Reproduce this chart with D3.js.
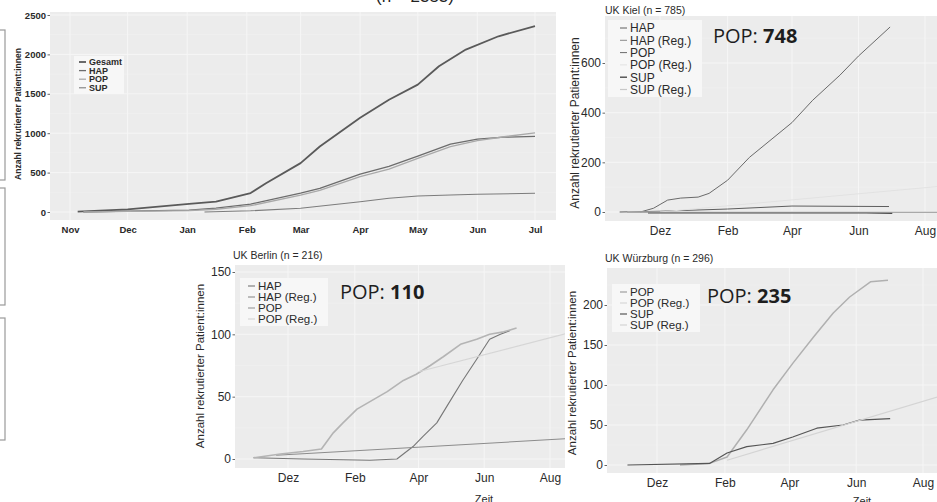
<!DOCTYPE html>
<html>
<head>
<meta charset="utf-8">
<script src="https://cdnjs.cloudflare.com/ajax/libs/d3/7.8.5/d3.min.js"></script>
<style>
	body { margin: 0; background: #fff; }
	svg { display: block; }
</style>
</head>
<body>
<svg id="chart" width="937" height="502"></svg>
<script>
/**********************************************************/
/*	Data					  */
/**********************************************************/

// Overview panel (all sites)
var allYTicks = [0, 500, 1000, 1500, 2000, 2500];
var allXTicks = ["2022-11-01", "2022-12-01", "2023-01-01", "2023-02-01", "2023-03-01",
	"2023-04-01", "2023-05-01", "2023-06-01", "2023-07-01"];
var allGesamt = [["2022-11-05", 4], ["2022-12-01", 34], ["2023-01-02", 102], ["2023-01-16", 131],
	["2023-02-03", 240], ["2023-02-11", 365], ["2023-03-01", 620], ["2023-03-11", 831],
	["2023-04-01", 1196], ["2023-04-16", 1425], ["2023-05-01", 1616], ["2023-05-12", 1849],
	["2023-05-26", 2061], ["2023-06-12", 2230], ["2023-07-01", 2360]];
var allHap = [["2022-11-08", 0], ["2022-12-01", 12], ["2023-01-02", 25], ["2023-01-16", 50],
	["2023-02-03", 100], ["2023-03-01", 240], ["2023-03-11", 300], ["2023-04-01", 480],
	["2023-04-16", 580], ["2023-05-01", 710], ["2023-05-18", 860], ["2023-06-01", 925],
	["2023-06-15", 950], ["2023-07-01", 960]];
var allPop = [["2022-11-08", 0], ["2022-12-01", 8], ["2023-01-02", 18], ["2023-01-16", 35],
	["2023-02-03", 80], ["2023-03-01", 215], ["2023-03-11", 275], ["2023-04-01", 450],
	["2023-04-16", 545], ["2023-05-01", 680], ["2023-05-18", 830], ["2023-06-01", 905],
	["2023-06-15", 955], ["2023-07-01", 1005]];
var allSup = [["2023-01-10", 0], ["2023-02-03", 15], ["2023-03-01", 47], ["2023-04-01", 131],
	["2023-04-16", 175], ["2023-05-01", 204], ["2023-05-18", 216], ["2023-06-01", 225],
	["2023-07-01", 238]];

// Site panels share the same month ticks
var siteXTicks = ["2022-12-01", "2023-02-01", "2023-04-01", "2023-06-01", "2023-08-01"];

// UK Kiel
var kielYTicks = [0, 200, 400, 600];
var kielHap = [["2022-10-25", 0], ["2022-12-01", 3], ["2023-02-01", 12], ["2023-04-01", 24], ["2023-06-29", 22]];
var kielHapReg = [["2022-11-01", -2], ["2023-08-31", -2]];
var kielPop = [["2022-11-13", 0], ["2022-11-25", 15], ["2022-12-08", 48], ["2022-12-20", 56],
	["2023-01-05", 60], ["2023-01-15", 75], ["2023-02-01", 128], ["2023-02-21", 220],
	["2023-04-01", 360], ["2023-04-20", 450], ["2023-05-15", 551], ["2023-06-01", 628],
	["2023-06-30", 745]];
var kielPopReg = [["2022-12-01", 0], ["2023-08-31", 110]];
var kielSup = [["2022-11-20", -3], ["2023-06-08", -3], ["2023-07-02", -5]];
var kielSupReg = [["2022-11-01", 0], ["2023-08-31", 0]];

// UK Berlin
var berlinYTicks = [0, 50, 100, 150];
var berlinHap = [["2022-10-30", 1], ["2022-12-15", 0], ["2023-02-15", -1], ["2023-03-12", 0],
	["2023-03-18", 4], ["2023-03-27", 10], ["2023-04-05", 18], ["2023-04-18", 29],
	["2023-04-30", 46], ["2023-05-12", 63], ["2023-05-25", 80], ["2023-06-06", 96],
	["2023-06-16", 100], ["2023-06-25", 103]];
var berlinHapReg = [["2022-11-20", 3], ["2023-08-31", 17]];
var berlinPop = [["2022-10-30", 1], ["2022-11-24", 4], ["2022-12-15", 6], ["2023-01-01", 8],
	["2023-01-12", 21], ["2023-01-21", 29], ["2023-02-03", 40], ["2023-02-15", 46],
	["2023-03-03", 54], ["2023-03-18", 63], ["2023-03-30", 68], ["2023-04-12", 75],
	["2023-04-24", 82], ["2023-05-10", 92], ["2023-05-25", 96], ["2023-06-06", 100],
	["2023-06-19", 102], ["2023-07-01", 105]];
var berlinPopReg = [["2023-04-01", 70], ["2023-08-31", 104]];

// UK Wuerzburg
var wueYTicks = [0, 50, 100, 150, 200];
var wuePop = [["2022-12-22", 0], ["2023-01-18", 2], ["2023-02-03", 10], ["2023-02-21", 44],
	["2023-03-17", 94], ["2023-04-04", 127], ["2023-04-23", 160], ["2023-05-11", 190],
	["2023-05-26", 210], ["2023-06-14", 229], ["2023-06-30", 231]];
var wueSup = [["2022-11-04", 0], ["2023-01-18", 2], ["2023-02-03", 15], ["2023-02-21", 23],
	["2023-03-17", 27], ["2023-04-04", 35], ["2023-04-26", 46], ["2023-05-20", 50],
	["2023-06-04", 56], ["2023-07-02", 58]];
var wueSupReg = [["2023-02-03", 6], ["2023-08-31", 92]];

// Annotations
var popTotals = { kiel: "748", berlin: "110", wue: "235" };

/**********************************************************/
/*	Utilities											  */
/**********************************************************/

var parseDay = d3.timeParse("%Y-%m-%d");
var enFormat = d3.timeFormat("%b");
var deFormat = d3.timeFormatLocale({
	dateTime: "%A, %e. %B %Y, %X", date: "%d.%m.%Y", time: "%H:%M:%S", periods: ["AM", "PM"],
	days: ["Sonntag", "Montag", "Dienstag", "Mittwoch", "Donnerstag", "Freitag", "Samstag"],
	shortDays: ["So", "Mo", "Di", "Mi", "Do", "Fr", "Sa"],
	months: ["Januar", "Februar", "März", "April", "Mai", "Juni", "Juli", "August", "September", "Oktober", "November", "Dezember"],
	shortMonths: ["Jan", "Feb", "Mär", "Apr", "Mai", "Jun", "Jul", "Aug", "Sep", "Okt", "Nov", "Dez"]
}).format("%b");

var YLABEL = "Anzahl rekrutierter Patient:innen";
var svg = d3.select("#chart");
var clipCount = 0;

/**
 * One ggplot-like panel
 */
function drawPanel(o) {
	var g = svg.append("g");
	var x = d3.scaleTime().domain(o.xDomain.map(parseDay)).range(o.xRange);
	var y = d3.scaleLinear().domain(o.yDomain).range(o.yRange);
	var b = o.box;

	// Background + grid
	g.append("rect")
		.attr("x", b[0]).attr("y", b[1])
		.attr("width", b[2] - b[0]).attr("height", b[3] - b[1])
		.attr("fill", "#ececec");
	var yStep = o.yTicks[1] - o.yTicks[0];
	o.yTicks.forEach(function(t) {
		g.append("line").attr("x1", b[0]).attr("x2", b[2])
			.attr("y1", y(t)).attr("y2", y(t))
			.attr("stroke", "#f6f6f6").attr("stroke-width", 1);
		var m = y(t + yStep / 2);
		if (m > b[1]) g.append("line").attr("x1", b[0]).attr("x2", b[2])
			.attr("y1", m).attr("y2", m)
			.attr("stroke", "#f2f2f2").attr("stroke-width", 0.5);
	});
	o.xTicks.forEach(function(t) {
		var px = x(parseDay(t));
		g.append("line").attr("x1", px).attr("x2", px)
			.attr("y1", b[1]).attr("y2", b[3])
			.attr("stroke", "#f6f6f6").attr("stroke-width", 1);
	});

	// Lines (clipped to the panel)
	var clipId = "clip" + (++clipCount);
	g.append("clipPath").attr("id", clipId).append("rect")
		.attr("x", b[0]).attr("y", b[1])
		.attr("width", b[2] - b[0]).attr("height", b[3] - b[1]);
	var line = d3.line()
		.x(function(d) { return x(parseDay(d[0])); })
		.y(function(d) { return y(d[1]); });
	var lg = g.append("g").attr("clip-path", "url(#" + clipId + ")");
	o.series.forEach(function(s) {
		if (!s.data) return;
		lg.append("path")
			.attr("d", line(s.data))
			.attr("fill", "none")
			.attr("stroke", s.color)
			.attr("stroke-width", s.width)
			.attr("stroke-linejoin", "round");
	});

	// Axes
	var yAxis = d3.axisLeft(y).tickValues(o.yTicks).tickFormat(d3.format("d"))
		.tickSize(2.5).tickPadding(1.5);
	var ya = g.append("g").attr("transform", "translate(" + b[0] + ",0)").call(yAxis);
	var xAxis = d3.axisBottom(x).tickValues(o.xTicks.map(parseDay))
		.tickFormat(o.fmt).tickSize(0).tickPadding(o.xPad);
	var xa = g.append("g").attr("transform", "translate(0," + b[3] + ")").call(xAxis);
	[ya, xa].forEach(function(a) {
		a.select(".domain").remove();
		a.selectAll("line").attr("stroke", "#666");
		a.selectAll("text")
			.attr("fill", "#2a2a2a")
			.style("font-family", o.font)
			.style("font-weight", o.weight)
			.style("font-size", o.tickSize + "px");
	});

	// Axis title
	g.append("text")
		.attr("transform", "translate(" + o.yTitle[0] + "," + o.yTitle[1] + ") rotate(-90)")
		.attr("text-anchor", "middle")
		.attr("fill", "#2a2a2a")
		.style("font-family", o.font)
		.style("font-weight", o.weight)
		.style("font-size", o.yTitleSize + "px")
		.text(YLABEL);

	// Panel title
	if (o.title) g.append("text")
		.attr("x", o.title[0]).attr("y", o.title[1])
		.attr("fill", "#2a2a2a")
		.style("font-family", "Liberation Sans, Arial, sans-serif")
		.style("font-size", "10.5px")
		.text(o.title[2]);

	// Legend
	var L = o.legend;
	g.append("rect")
		.attr("x", L.box[0]).attr("y", L.box[1])
		.attr("width", L.box[2]).attr("height", L.box[3])
		.attr("fill", "#f7f7f7");
	o.series.forEach(function(s, i) {
		var cy = L.y + i * L.step;
		g.append("line")
			.attr("x1", L.x - L.key - 3).attr("x2", L.x - 3)
			.attr("y1", cy).attr("y2", cy)
			.attr("stroke", s.color).attr("stroke-width", Math.max(1, s.width));
		g.append("text")
			.attr("x", L.x).attr("y", cy)
			.attr("dy", "0.36em")
			.attr("fill", "#2a2a2a")
			.style("font-family", o.font)
			.style("font-weight", o.weight)
			.style("font-size", L.size + "px")
			.text(s.name);
	});

	// "POP: n" annotation
	if (o.note) {
		var t = g.append("text")
			.attr("x", o.note[0]).attr("y", o.note[1])
			.attr("fill", "#1e1e1e")
			.style("font-family", "Open Sans, Noto Sans, sans-serif")
			.style("font-size", "20px");
		t.append("tspan").text("POP: ");
		t.append("tspan").style("font-weight", "bold").text(o.note[2]);
	}

	// "Zeit" label (cut off at the bottom of the scan)
	if (o.zeit) g.append("text")
		.attr("x", o.zeit[0]).attr("y", o.zeit[1])
		.attr("text-anchor", "middle")
		.attr("fill", "#2a2a2a")
		.style("font-family", o.font)
		.style("font-size", "11px")
		.text("Zeit");
}

/**********************************************************/
/*	Page frame pieces of the scan						  */
/**********************************************************/

[[30, 150], [188, 117], [318, 122]].forEach(function(r) {
	svg.append("rect")
		.attr("x", -10).attr("y", r[0])
		.attr("width", 15).attr("height", r[1])
		.attr("fill", "none").attr("stroke", "#9a9a9a").attr("stroke-width", 1.2);
});

// Title of the overview, mostly cut off by the scan
svg.append("text")
	.attr("x", 376).attr("y", 2)
	.attr("fill", "#222")
	.style("font-family", "Liberation Sans, Arial, sans-serif")
	.style("font-size", "17px")
	.text("(n = 2353)");

var NARROW = "Liberation Sans Narrow, Arial Narrow, Liberation Sans, sans-serif";
var SANS = "Liberation Sans, Arial, sans-serif";

/**********************************************************/
/*	Panels												  */
/**********************************************************/

drawPanel({
	box: [50, 12, 556, 220],
	xDomain: ["2022-11-01", "2023-07-01"], xRange: [70, 535],
	yDomain: [0, 2500], yRange: [212, 15],
	xTicks: allXTicks, yTicks: allYTicks, fmt: enFormat, xPad: 6,
	font: NARROW, weight: "bold", tickSize: 9.5,
	yTitle: [21, 114], yTitleSize: 8.5,
	series: [
		{ name: "Gesamt", data: allGesamt, color: "#5a5a5a", width: 1.8 },
		{ name: "HAP", data: allHap, color: "#6c6c6c", width: 1.3 },
		{ name: "POP", data: allPop, color: "#a9a9a9", width: 1.3 },
		{ name: "SUP", data: allSup, color: "#7c7c7c", width: 1.1 }
	],
	legend: { box: [74, 56, 50, 38], x: 89, y: 62, step: 8.6, key: 7, size: 9 }
});

drawPanel({
	box: [605, 16, 937, 221],
	xDomain: ["2022-12-01", "2023-08-01"], xRange: [660, 925],
	yDomain: [0, 600], yRange: [212, 63],
	xTicks: siteXTicks, yTicks: kielYTicks, fmt: deFormat, xPad: 5,
	font: SANS, weight: "normal", tickSize: 12,
	yTitle: [579, 123], yTitleSize: 12,
	title: [605, 14, "UK Kiel (n = 785)"],
	note: [713, 43, popTotals.kiel],
	series: [
		{ name: "HAP", data: kielHap, color: "#5e5e5e", width: 1 },
		{ name: "HAP (Reg.)", data: kielHapReg, color: "#8a8a8a", width: 1 },
		{ name: "POP", data: kielPop, color: "#6a6a6a", width: 1 },
		{ name: "POP (Reg.)", data: kielPopReg, color: "#e2e2e2", width: 1 },
		{ name: "SUP", data: kielSup, color: "#4a4a4a", width: 1.4 },
		{ name: "SUP (Reg.)", data: kielSupReg, color: "#c8c8c8", width: 1.2 }
	],
	legend: { box: [608, 20, 94, 77], x: 630, y: 28, step: 12.3, key: 7, size: 12 }
});

drawPanel({
	box: [235, 265, 565, 468],
	xDomain: ["2022-12-01", "2023-08-01"], xRange: [288, 550],
	yDomain: [0, 150], yRange: [459, 272],
	xTicks: siteXTicks, yTicks: berlinYTicks, fmt: deFormat, xPad: 5,
	font: SANS, weight: "normal", tickSize: 12,
	yTitle: [204, 366], yTitleSize: 11.5,
	title: [233, 259, "UK Berlin (n = 216)"],
	note: [340, 299, popTotals.berlin],
	zeit: [484, 503],
	series: [
		{ name: "HAP", data: berlinHap, color: "#777777", width: 1.1 },
		{ name: "HAP (Reg.)", data: berlinHapReg, color: "#8c8c8c", width: 1.1 },
		{ name: "POP", data: berlinPop, color: "#b4b4b4", width: 1.6 },
		{ name: "POP (Reg.)", data: berlinPopReg, color: "#d6d6d6", width: 1.2 }
	],
	legend: { box: [240, 278, 88, 48], x: 258, y: 286, step: 11, key: 7, size: 11.5 }
});

drawPanel({
	box: [607, 268, 937, 473],
	xDomain: ["2022-12-01", "2023-08-01"], xRange: [657, 923],
	yDomain: [0, 200], yRange: [465, 305],
	xTicks: siteXTicks, yTicks: wueYTicks, fmt: deFormat, xPad: 5,
	font: SANS, weight: "normal", tickSize: 12,
	yTitle: [576, 373], yTitleSize: 11.5,
	title: [605, 262, "UK Würzburg (n = 296)"],
	note: [707, 303, popTotals.wue],
	zeit: [862, 505],
	series: [
		{ name: "POP", data: wuePop, color: "#b0b0b0", width: 1.5 },
		{ name: "POP (Reg.)", data: null, color: "#d8d8d8", width: 1.2 },
		{ name: "SUP", data: wueSup, color: "#555555", width: 1.2 },
		{ name: "SUP (Reg.)", data: wueSupReg, color: "#d4d4d4", width: 1.2 }
	],
	legend: { box: [612, 284, 88, 48], x: 630, y: 292, step: 11, key: 7, size: 11.5 }
});
</script>
</body>
</html>
